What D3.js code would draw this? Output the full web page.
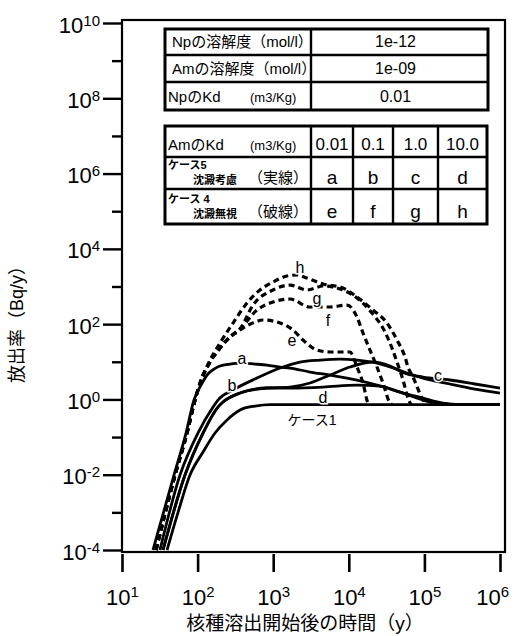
<!DOCTYPE html>
<html lang="ja">
  <head>
    <meta charset="UTF-8" />
    <title>放出率</title>
    <style>
      body { margin: 0; background: #fff; }
      svg { display: block; }
    </style>
  </head>
  <body>
    <svg id="chart"></svg>
  </body>
</html>

<script src="https://cdnjs.cloudflare.com/ajax/libs/d3/7.8.5/d3.min.js"></script>

<script>
  // 軸の目盛り.
  const xTicks = [1e1, 1e2, 1e3, 1e4, 1e5, 1e6];
  const yMajor = [1e-4, 1e-2, 1e0, 1e2, 1e4, 1e6, 1e8, 1e10];
  const yMinor = [1e-3, 1e-1, 1e1, 1e3, 1e5, 1e7, 1e9];

  // [時間 (y), 放出率 (Bq/y)] 図から読み取り.
  const case1 = [
    [39.4, 1e-4], [55.1, 1e-3], [79.3, 9.8e-3], [118, 0.04], [170, 0.128],
    [245, 0.284], [364, 0.523], [575, 0.668], [908, 0.732], [1e6, 0.732],
  ];
  // ケース5 沈澱考慮 (実線).
  const caseA = [
    [25.7, 1e-4], [48.7, 9.8e-3], [70.3, 0.128], [89.6, 0.964], [111, 2.41],
    [137, 4.73], [165, 6.4], [198, 7.72], [268, 8.72], [364, 9.27], [575, 8.72],
    [828, 8.2], [1230, 7.26], [1668, 6.83], [3068, 5.35], [5640, 4.45],
    [12830, 3.28], [23590, 2.41], [47550, 1.57], [95760, 0.964],
    [160700, 0.755], [295800, 0.732], [1e6, 0.732],
  ];
  const caseB = [
    [31.8, 1e-4], [58.5, 9.8e-3], [101, 0.128], [160, 0.628], [186, 0.964],
    [294, 1.78], [611, 3.7], [1230, 6.83], [2262, 9.86], [4160, 11.1],
    [7650, 11.8], [12830, 11.1], [23590, 9.27], [35080, 7.26], [58880, 5.03],
    [95760, 3.7], [218100, 2.57], [467000, 1.89], [1e6, 1.48],
  ];
  const caseC = [
    [34.9, 1e-4], [68.1, 9.8e-3], [118, 0.128], [186, 0.628], [217, 0.853],
    [364, 1.48], [828, 2.01], [1668, 2.13], [3068, 2.73], [5640, 4.45],
    [10370, 7.26], [20890, 9.86], [35080, 7.72], [58880, 4.73], [95760, 3.94],
    [218100, 3.28], [467000, 2.57], [1e6, 2.01],
  ];
  const caseD = [
    [34.9, 1e-4], [68.1, 9.8e-3], [118, 0.128], [186, 0.628], [217, 0.853],
    [364, 1.48], [828, 2.01], [1668, 2.01], [4560, 2.13], [12830, 2.41],
    [25870, 2.27], [47550, 1.57], [95760, 1.09], [176200, 0.802],
    [295800, 0.732], [1e6, 0.732],
  ];
  // ケース4 沈澱無視 (破線).
  const caseE = [
    [28.2, 1e-4], [50.3, 9.8e-3], [72.4, 0.128], [92.4, 0.964], [108, 2.73],
    [146, 9.86], [198, 23.2], [268, 45.5], [399, 78.9], [575, 114], [733, 129],
    [1122, 114], [1828, 69.8], [2478, 37.8], [3796, 20.5], [5640, 18.2],
    [10370, 18.2], [12830, 7.26], [15410, 2.73], [17950, 0.802], [19060, 0.732],
  ];
  const caseF = [
    [28.2, 1e-4], [50.3, 9.8e-3], [72.4, 0.128], [92.4, 0.964], [108, 2.73],
    [146, 9.86], [198, 23.2], [268, 45.5], [364, 74.2], [611, 237], [994, 387],
    [1668, 465], [3068, 285], [5640, 285], [9460, 322], [12830, 155],
    [15410, 58.1], [19060, 20.5], [23590, 7.26], [28340, 2.73], [35080, 0.802],
    [37250, 0.732],
  ];
  const caseG = [
    [28.2, 1e-4], [50.3, 9.8e-3], [72.4, 0.128], [92.4, 0.964], [108, 2.73],
    [146, 9.86], [198, 23.2], [268, 45.5], [364, 74.2], [541, 322], [994, 807],
    [1668, 1094], [2800, 807], [4560, 1031], [7650, 858], [12830, 494],
    [20270, 197], [29220, 69.8], [37250, 23.2], [44770, 8.2], [52120, 3.28],
    [60680, 1.09], [66520, 0.732],
  ];
  const caseH = [
    [28.2, 1e-4], [50.3, 9.8e-3], [72.4, 0.128], [92.4, 0.964], [108, 2.73],
    [146, 11.1], [198, 31.5], [294, 107], [450, 364], [669, 807], [994, 1315],
    [1523, 1897], [2065, 2018], [2800, 1679], [4560, 1164], [8380, 912],
    [12830, 526], [20890, 237], [32010, 107], [43420, 37.8], [55370, 13.4],
    [60680, 7.26], [70670, 3.94], [95760, 0.964], [105000, 0.732],
  ];

  // 曲線ラベル [文字, 時間, 放出率].
  const curveLabels = [
    ["a", 387, 12.6], ["b", 285, 2.41], ["c", 151000, 4.45], ["d", 4560, 1.16],
    ["e", 1774, 37.8], ["f", 5310, 129], ["g", 3796, 494], ["h", 2262, 3290],
    ["ケース1", 3260, 0.284],
  ];

  // 表の内容.
  const paramNames = ["Npの溶解度（mol/l）", "Amの溶解度（mol/l）", "NpのKd"];
  const paramUnits = ["", "", "(m3/Kg)"];
  const paramValues = ["1e-12", "1e-09", "0.01"];
  const amKd = ["0.01", "0.1", "1.0", "10.0"];
  const solidKeys = ["a", "b", "c", "d"];
  const dashedKeys = ["e", "f", "g", "h"];
</script>

<script>
  const width = 520,
    height = 636,
    latin = "'Liberation Sans', Arial, sans-serif",
    cjk = "'Liberation Sans', 'Noto Sans CJK JP', sans-serif";

  const svg = d3.select("#chart").attr("width", width).attr("height", height);

  const x = d3.scaleLog().domain([1e1, 1e6]).range([122, 500]);
  const y = d3.scaleLog().domain([1e-4, 1e10]).range([550, 23]);

  // 枠.
  svg
    .append("rect")
    .attr("x", 122)
    .attr("y", 20)
    .attr("width", 383)
    .attr("height", 532)
    .attr("fill", "none")
    .attr("stroke", "#000")
    .attr("stroke-width", 2.2);

  // 指数表記のラベル.
  function powerLabel(sel, baseSize, expSize, expShift) {
    sel.each(function (d) {
      const t = d3.select(this).text(null);
      t.append("tspan").text("10");
      t.append("tspan")
        .attr("font-size", expSize)
        .attr("dy", -expShift)
        .text(Math.round(Math.log10(d)));
    });
  }

  // y 軸 (主目盛り).
  const yAxis = svg
    .append("g")
    .attr("transform", "translate(122,0)")
    .call(d3.axisLeft(y).tickValues(yMajor).tickSize(19).tickPadding(3));
  yAxis.select(".domain").remove();
  yAxis.selectAll(".tick line").attr("stroke-width", 2.4);
  yAxis
    .selectAll(".tick text")
    .attr("font-family", latin)
    .attr("font-size", 22)
    .attr("dy", 9)
    .call(powerLabel, 22, 15, 7);

  // y 軸 (副目盛り).
  const yAxisMinor = svg
    .append("g")
    .attr("transform", "translate(122,0)")
    .call(d3.axisLeft(y).tickValues(yMinor).tickSize(10).tickFormat(""));
  yAxisMinor.select(".domain").remove();
  yAxisMinor.selectAll(".tick line").attr("stroke-width", 2.4);

  // x 軸.
  const xAxis = svg
    .append("g")
    .attr("transform", "translate(0,554)")
    .call(d3.axisBottom(x).tickValues(xTicks).tickSize(18));
  xAxis.select(".domain").remove();
  xAxis.selectAll(".tick line").attr("stroke-width", 2.6);
  xAxis
    .selectAll(".tick text")
    .attr("font-family", latin)
    .attr("font-size", 22)
    .attr("y", 51)
    .attr("dy", 0)
    .call(powerLabel, 22, 15, 8)
    .each(function () {
      // 右端のラベルは図の中に収める.
      const b = this.getBBox();
      const tx = +d3.select(this.parentNode).attr("transform").match(/\(([\d.]+)/)[1];
      const over = tx + b.x + b.width - 509;
      if (over > 0) d3.select(this).attr("x", -over);
    });

  // 軸タイトル.
  svg
    .append("text")
    .attr("x", 305)
    .attr("y", 630)
    .attr("text-anchor", "middle")
    .attr("font-family", cjk)
    .attr("font-size", 19)
    .text("核種溶出開始後の時間（y）");

  svg
    .append("text")
    .attr("transform", "translate(23,320) rotate(-90)")
    .attr("text-anchor", "middle")
    .attr("font-family", cjk)
    .attr("font-size", 18)
    .text("放出率（Bq/y）");

  // 曲線.
  const line = d3
    .line()
    .x((d) => x(d[0]))
    .y((d) => y(d[1]))
    .curve(d3.curveMonotoneX);

  const curves = [
    { data: case1, dash: null },
    { data: caseA, dash: null },
    { data: caseB, dash: null },
    { data: caseC, dash: null },
    { data: caseD, dash: null },
    { data: caseE, dash: "6,4" },
    { data: caseF, dash: "6,4" },
    { data: caseG, dash: "6,4" },
    { data: caseH, dash: "6,4" },
  ];

  svg
    .append("g")
    .selectAll("path")
    .data(curves)
    .join("path")
    .attr("d", (c) => line(c.data))
    .attr("fill", "none")
    .attr("stroke", "#000")
    .attr("stroke-width", (c) => (c.dash ? 3.2 : 2.8))
    .attr("stroke-dasharray", (c) => c.dash)
    .attr("stroke-linejoin", "round");

  svg
    .append("g")
    .selectAll("text")
    .data(curveLabels)
    .join("text")
    .attr("x", (d) => x(d[1]))
    .attr("y", (d) => y(d[2]))
    .attr("dy", "0.35em")
    .attr("text-anchor", "middle")
    .attr("font-family", cjk)
    .attr("font-size", (d) => (d[0].length > 1 ? 14 : 16))
    .attr("paint-order", "stroke")
    .attr("stroke", "#fff")
    .attr("stroke-width", 3)
    .text((d) => d[0]);

  // 表 1: 溶解度と Np の Kd.
  const t1 = { x0: 165, x1: 311, x2: 488, rows: [29, 55, 82, 110] };
  const table1 = svg.append("g");
  table1
    .append("rect")
    .attr("x", t1.x0)
    .attr("y", t1.rows[0])
    .attr("width", t1.x2 - t1.x0)
    .attr("height", t1.rows[3] - t1.rows[0])
    .attr("fill", "#fff")
    .attr("stroke", "#000")
    .attr("stroke-width", 3);
  table1
    .selectAll("line.row")
    .data(t1.rows.slice(1, 3))
    .join("line")
    .attr("x1", t1.x0)
    .attr("x2", t1.x2)
    .attr("y1", (d) => d)
    .attr("y2", (d) => d)
    .attr("stroke", "#000")
    .attr("stroke-width", 2.4);
  table1
    .append("line")
    .attr("x1", t1.x1)
    .attr("x2", t1.x1)
    .attr("y1", t1.rows[0])
    .attr("y2", t1.rows[3])
    .attr("stroke", "#000")
    .attr("stroke-width", 2.4);

  paramNames.forEach((name, i) => {
    const base = t1.rows[i + 1] - 8;
    table1
      .append("text")
      .attr("x", i < 2 ? 172 : 168)
      .attr("y", base)
      .attr("font-family", cjk)
      .attr("font-size", 15)
      .text(name);
    if (paramUnits[i])
      table1
        .append("text")
        .attr("x", 250)
        .attr("y", base)
        .attr("font-family", latin)
        .attr("font-size", 13)
        .text(paramUnits[i]);
    table1
      .append("text")
      .attr("x", (t1.x1 + t1.x2) / 2 - 4)
      .attr("y", base)
      .attr("text-anchor", "middle")
      .attr("font-family", latin)
      .attr("font-size", 16)
      .text(paramValues[i]);
  });

  // 表 2: Am の Kd とケースの対応.
  const t2 = {
    x0: 165,
    cols: [311, 353, 393, 438, 487],
    rows: [126, 157, 189, 224],
  };
  const table2 = svg.append("g");
  table2
    .append("rect")
    .attr("x", t2.x0)
    .attr("y", t2.rows[0])
    .attr("width", t2.cols[4] - t2.x0)
    .attr("height", t2.rows[3] - t2.rows[0])
    .attr("fill", "#fff")
    .attr("stroke", "#000")
    .attr("stroke-width", 3);
  table2
    .selectAll("line.row")
    .data(t2.rows.slice(1, 3))
    .join("line")
    .attr("x1", t2.x0)
    .attr("x2", t2.cols[4])
    .attr("y1", (d) => d)
    .attr("y2", (d) => d)
    .attr("stroke", "#000")
    .attr("stroke-width", 2.4);
  table2
    .selectAll("line.col")
    .data(t2.cols.slice(0, 4))
    .join("line")
    .attr("x1", (d) => d)
    .attr("x2", (d) => d)
    .attr("y1", t2.rows[0])
    .attr("y2", t2.rows[3])
    .attr("stroke", "#000")
    .attr("stroke-width", 2.4);

  table2
    .append("text")
    .attr("x", 168)
    .attr("y", 150)
    .attr("font-family", cjk)
    .attr("font-size", 15)
    .text("AmのKd");
  table2
    .append("text")
    .attr("x", 250)
    .attr("y", 150)
    .attr("font-family", latin)
    .attr("font-size", 13)
    .text("(m3/Kg)");

  const colMid = (i) => (t2.cols[i] + t2.cols[i + 1]) / 2;
  const rowCells = [
    { keys: amKd, base: 150, size: 17 },
    { keys: solidKeys, base: 184, size: 19 },
    { keys: dashedKeys, base: 218, size: 19 },
  ];
  rowCells.forEach((r) => {
    table2
      .append("g")
      .selectAll("text")
      .data(r.keys)
      .join("text")
      .attr("x", (d, i) => colMid(i))
      .attr("y", r.base)
      .attr("text-anchor", "middle")
      .attr("font-family", latin)
      .attr("font-size", r.size)
      .text((d) => d);
  });

  // 行見出し.
  const rowHeads = [
    { top: "ケース5", mid: "沈澱考慮", line: "（実線）", base: 184 },
    { top: "ケース 4", mid: "沈澱無視", line: "（破線）", base: 218 },
  ];
  rowHeads.forEach((h) => {
    table2
      .append("text")
      .attr("x", 168)
      .attr("y", h.base - 15)
      .attr("font-family", cjk)
      .attr("font-size", 11)
      .attr("font-weight", "bold")
      .text(h.top);
    table2
      .append("text")
      .attr("x", 193)
      .attr("y", h.base)
      .attr("font-family", cjk)
      .attr("font-size", 11)
      .attr("font-weight", "bold")
      .text(h.mid);
    table2
      .append("text")
      .attr("x", 248)
      .attr("y", h.base - 1)
      .attr("font-family", cjk)
      .attr("font-size", 15)
      .text(h.line);
  });
</script>
